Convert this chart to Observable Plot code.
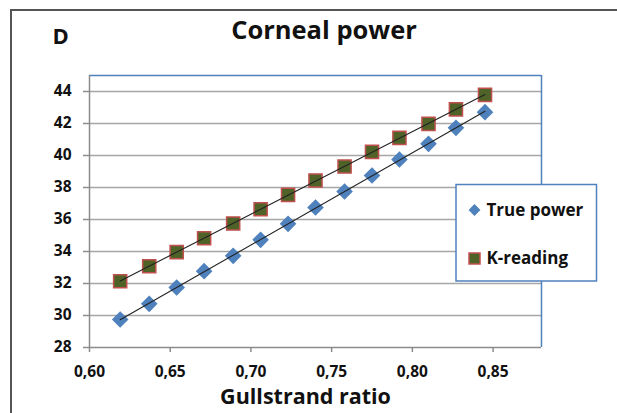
<!DOCTYPE html>
<html><head><meta charset="utf-8">
<script src="https://cdn.jsdelivr.net/npm/d3@7"></script>
<script src="https://cdn.jsdelivr.net/npm/@observablehq/plot@0.6"></script>
<style>
body{margin:0;background:#fff;font-family:"Open Sans",sans-serif;}
#wrap{position:relative;width:617px;height:413px;overflow:hidden;background:#fff;}
#frame{position:absolute;left:10px;top:9px;width:700px;height:500px;border:2px solid #555;box-sizing:border-box;}
#chart{position:absolute;left:0;top:0;}
#overlay{position:absolute;left:0;top:0;pointer-events:none;}
</style>
</head><body>
<div id="wrap"><div id="frame"></div><div id="chart"></div><svg id="overlay" width="617" height="413"></svg></div>
<script>
const title = "Corneal power";
const panelLabel = "D";
const xLabel = "Gullstrand ratio";
const seriesNames = ["True power", "K-reading"];
const gullstrand = [0.619, 0.637, 0.654, 0.671, 0.689, 0.706, 0.723, 0.740, 0.758, 0.775, 0.792, 0.810, 0.827, 0.845];
const truePower = [29.75, 30.73, 31.75, 32.77, 33.73, 34.73, 35.73, 36.75, 37.75, 38.75, 39.75, 40.73, 41.73, 42.71];
const kReading = [32.14, 33.08, 33.96, 34.83, 35.75, 36.64, 37.54, 38.44, 39.31, 40.23, 41.10, 41.98, 42.88, 43.79];
const yTicks = [28, 30, 32, 34, 36, 38, 40, 42, 44];
const xTicks = [0.60, 0.65, 0.70, 0.75, 0.80, 0.85];
const xDomain = [0.60, 0.88];
const yDomain = [28, 45];

const tp = gullstrand.map((g, i) => ({g, v: truePower[i]}));
const kr = gullstrand.map((g, i) => ({g, v: kReading[i]}));
const font = "'Open Sans', sans-serif";
const blue = "#4f81bd", grid = "#a6a6a6";

const chart = Plot.plot({
  width: 617, height: 413,
  marginLeft: 89, marginRight: 76, marginTop: 75, marginBottom: 66,
  style: {fontFamily: font, background: "transparent"},
  x: {domain: xDomain, axis: null},
  y: {domain: yDomain, axis: null},
  marks: [
    Plot.ruleY(yTicks.filter(d => d > 28), {stroke: grid, strokeWidth: 1.5}),
    Plot.ruleY([yDomain[1]], {stroke: blue, strokeWidth: 1.5}),
    Plot.ruleX([xDomain[1]], {stroke: blue, strokeWidth: 1.5}),
    Plot.ruleX([xDomain[0]], {stroke: "#8c8c8c", strokeWidth: 1.5}),
    Plot.ruleY([yDomain[0]], {stroke: "#8c8c8c", strokeWidth: 1.5}),
    Plot.axisY({ticks: yTicks, label: null, tickSize: 6, tickPadding: 12, stroke: "#8c8c8c", strokeWidth: 1.5, fill: "#111", fontSize: 15.5, fontWeight: "bold", fontFamily: font}),
    Plot.axisX({ticks: xTicks, label: null, tickSize: 5, tickPadding: 13, stroke: "#8c8c8c", strokeWidth: 1.5, fill: "#111", fontSize: 15.5, fontWeight: "bold", fontFamily: font,
      tickFormat: d => d3.format(".2f")(d).replace(".", ",")}),
    Plot.dot(tp, {x: "g", y: "v", symbol: "diamond2", r: 7.5, fill: blue, stroke: "none"}),
    Plot.dot(kr, {x: "g", y: "v", symbol: "square", r: 7.4, fill: "#4f6228", stroke: "#c0504d", strokeWidth: 1.5}),
    Plot.linearRegressionY(tp, {x: "g", y: "v", ci: 0, stroke: "#222", strokeWidth: 1.1}),
    Plot.linearRegressionY(kr, {x: "g", y: "v", ci: 0, stroke: "#222", strokeWidth: 1.1})
  ]
});
document.getElementById("chart").appendChild(chart);

const ov = d3.select("#overlay");
ov.append("text").attr("x", 324).attr("y", 38.5).attr("text-anchor", "middle")
  .attr("font-family", font).attr("font-weight", "bold").attr("font-size", 25.5).attr("fill", "#111").text(title);
ov.append("text").attr("x", 52.5).attr("y", 44.3).attr("font-family", font).attr("font-weight", "bold")
  .attr("font-size", 22).attr("fill", "#111").text(panelLabel);
ov.append("text").attr("x", 305.5).attr("y", 403.5).attr("text-anchor", "middle")
  .attr("font-family", font).attr("font-weight", "bold").attr("font-size", 21.5).attr("fill", "#111").text(xLabel);
// legend
const lg = ov.append("g");
lg.append("rect").attr("x", 456).attr("y", 184.5).attr("width", 140.5).attr("height", 96.5)
  .attr("fill", "#fff").attr("stroke", blue).attr("stroke-width", 1.5);
lg.append("path").attr("d", d3.symbol(d3.symbolDiamond2, 90)()).attr("transform", "translate(474.5,210)").attr("fill", blue);
lg.append("rect").attr("x", 469).attr("y", 253).attr("width", 11).attr("height", 11)
  .attr("fill", "#4f6228").attr("stroke", "#c0504d").attr("stroke-width", 1.5);
lg.selectAll("text.l").data(seriesNames).join("text").attr("x", 486.5).attr("y", (d, i) => 215.8 + i * 48.5)
  .attr("font-family", font).attr("font-weight", "bold").attr("font-size", 17).attr("fill", "#111").text(d => d);
</script>
</body></html>
